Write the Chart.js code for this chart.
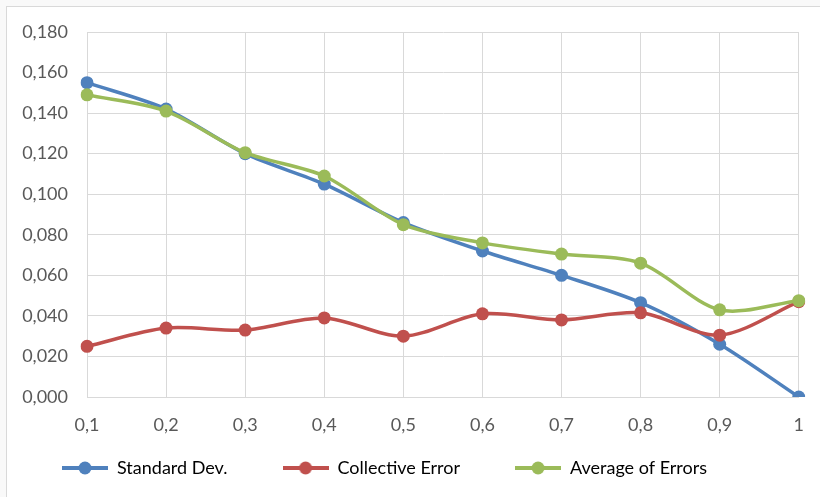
<!DOCTYPE html>
<html>
<head>
<meta charset="utf-8">
<script src="https://cdn.jsdelivr.net/npm/chart.js@4"></script>
<style>
  html, body { margin: 0; padding: 0; background: #f9f9f9; }
  #wrap { position: absolute; left: 6px; top: 6px; width: 814px; height: 491px;
          background: #fff; border-left: 1px solid #d9d9d9; border-top: 1px solid #d9d9d9; }
  canvas { display: block; }
</style>
</head>
<body>
<div id="wrap"><canvas id="g"></canvas></div>
<script>
// valores
const categorias = ['0,1', '0,2', '0,3', '0,4', '0,5', '0,6', '0,7', '0,8', '0,9', '1'];
const desvioPadrao = [0.155, 0.142, 0.120, 0.105, 0.086, 0.072, 0.060, 0.0465, 0.026, 0.000];
const erroColetivo = [0.025, 0.034, 0.033, 0.039, 0.030, 0.041, 0.038, 0.0415, 0.0305, 0.047];
const mediaErros = [0.149, 0.141, 0.1205, 0.109, 0.085, 0.076, 0.0705, 0.066, 0.043, 0.0475];
const nomes = ['Standard Dev.', 'Collective Error', 'Average of Errors'];
const cores = ['#4f81bd', '#c0504d', '#9bbb59'];

const fonte = { family: 'Lato, "Open Sans", sans-serif', size: 18 };
const espacoLegenda = 55;

// marcador da legenda: linha com bolinha no meio
function marcador(cor) {
  const c = document.createElement('canvas');
  c.width = 46; c.height = 14;
  const x = c.getContext('2d');
  x.strokeStyle = cor; x.lineWidth = 4;
  x.beginPath(); x.moveTo(0, 7); x.lineTo(46, 7); x.stroke();
  x.fillStyle = cor;
  x.beginPath(); x.arc(23, 7, 6.5, 0, Math.PI * 2); x.fill();
  return c;
}
const marcadores = cores.map(marcador);

// o padding da legenda vale pra horizontal e vertical; aqui só queremos o horizontal
const legendaBaixa = {
  id: 'legendaBaixa',
  afterInit(chart) {
    const lg = chart.legend;
    const fit = lg.fit.bind(lg), draw = lg.draw.bind(lg);
    lg.fit = function () { fit(); this.height = 41; };
    lg.draw = function () {
      const t = this.top;
      this.top = t - (espacoLegenda - 14);
      draw();
      this.top = t;
    };
  },
};

const serie = (i, dados, ordem) => ({
  label: nomes[i], data: dados, order: ordem,
  borderColor: cores[i], backgroundColor: cores[i],
  borderWidth: 3.5, pointRadius: 6.5, pointHoverRadius: 6.5,
  pointBorderWidth: 0, tension: 0.3,
});

new Chart(document.getElementById('g'), {
  type: 'line',
  data: {
    labels: categorias,
    datasets: [
      serie(0, desvioPadrao, 3),
      serie(1, erroColetivo, 2),
      serie(2, mediaErros, 1),
    ],
  },
  plugins: [legendaBaixa],
  options: {
    responsive: true, maintainAspectRatio: false, animation: false,
    layout: { padding: { left: 0, right: 20, top: 25, bottom: 12 } },
    plugins: {
      tooltip: { enabled: false },
      legend: {
        position: 'bottom', align: 'start',
        labels: {
          usePointStyle: true, pointStyleWidth: 46, padding: espacoLegenda,
          color: '#000', font: fonte,
          generateLabels: (chart) => Chart.defaults.plugins.legend.labels.generateLabels(chart)
            .sort((a, b) => a.datasetIndex - b.datasetIndex)
            .map(l => ({ ...l, pointStyle: marcadores[l.datasetIndex], fontColor: '#000' })),
        },
      },
    },
    scales: {
      x: {
        grid: { color: '#d9d9d9', drawTicks: false },
        border: { color: '#d9d9d9' },
        ticks: { color: '#595959', font: fonte, padding: 17 },
        afterFit: (s) => { s.height = 48; },
      },
      y: {
        min: 0, max: 0.18,
        grid: { color: '#d9d9d9', drawTicks: false },
        border: { color: '#d9d9d9' },
        ticks: {
          stepSize: 0.02, color: '#595959', font: fonte, padding: 19,
          callback: (v) => v.toFixed(3).replace('.', ','),
        },
        afterFit: (s) => { s.width = 80; s.paddingTop = 0; s.paddingBottom = 0; },
      },
    },
  },
});
</script>
</body>
</html>
